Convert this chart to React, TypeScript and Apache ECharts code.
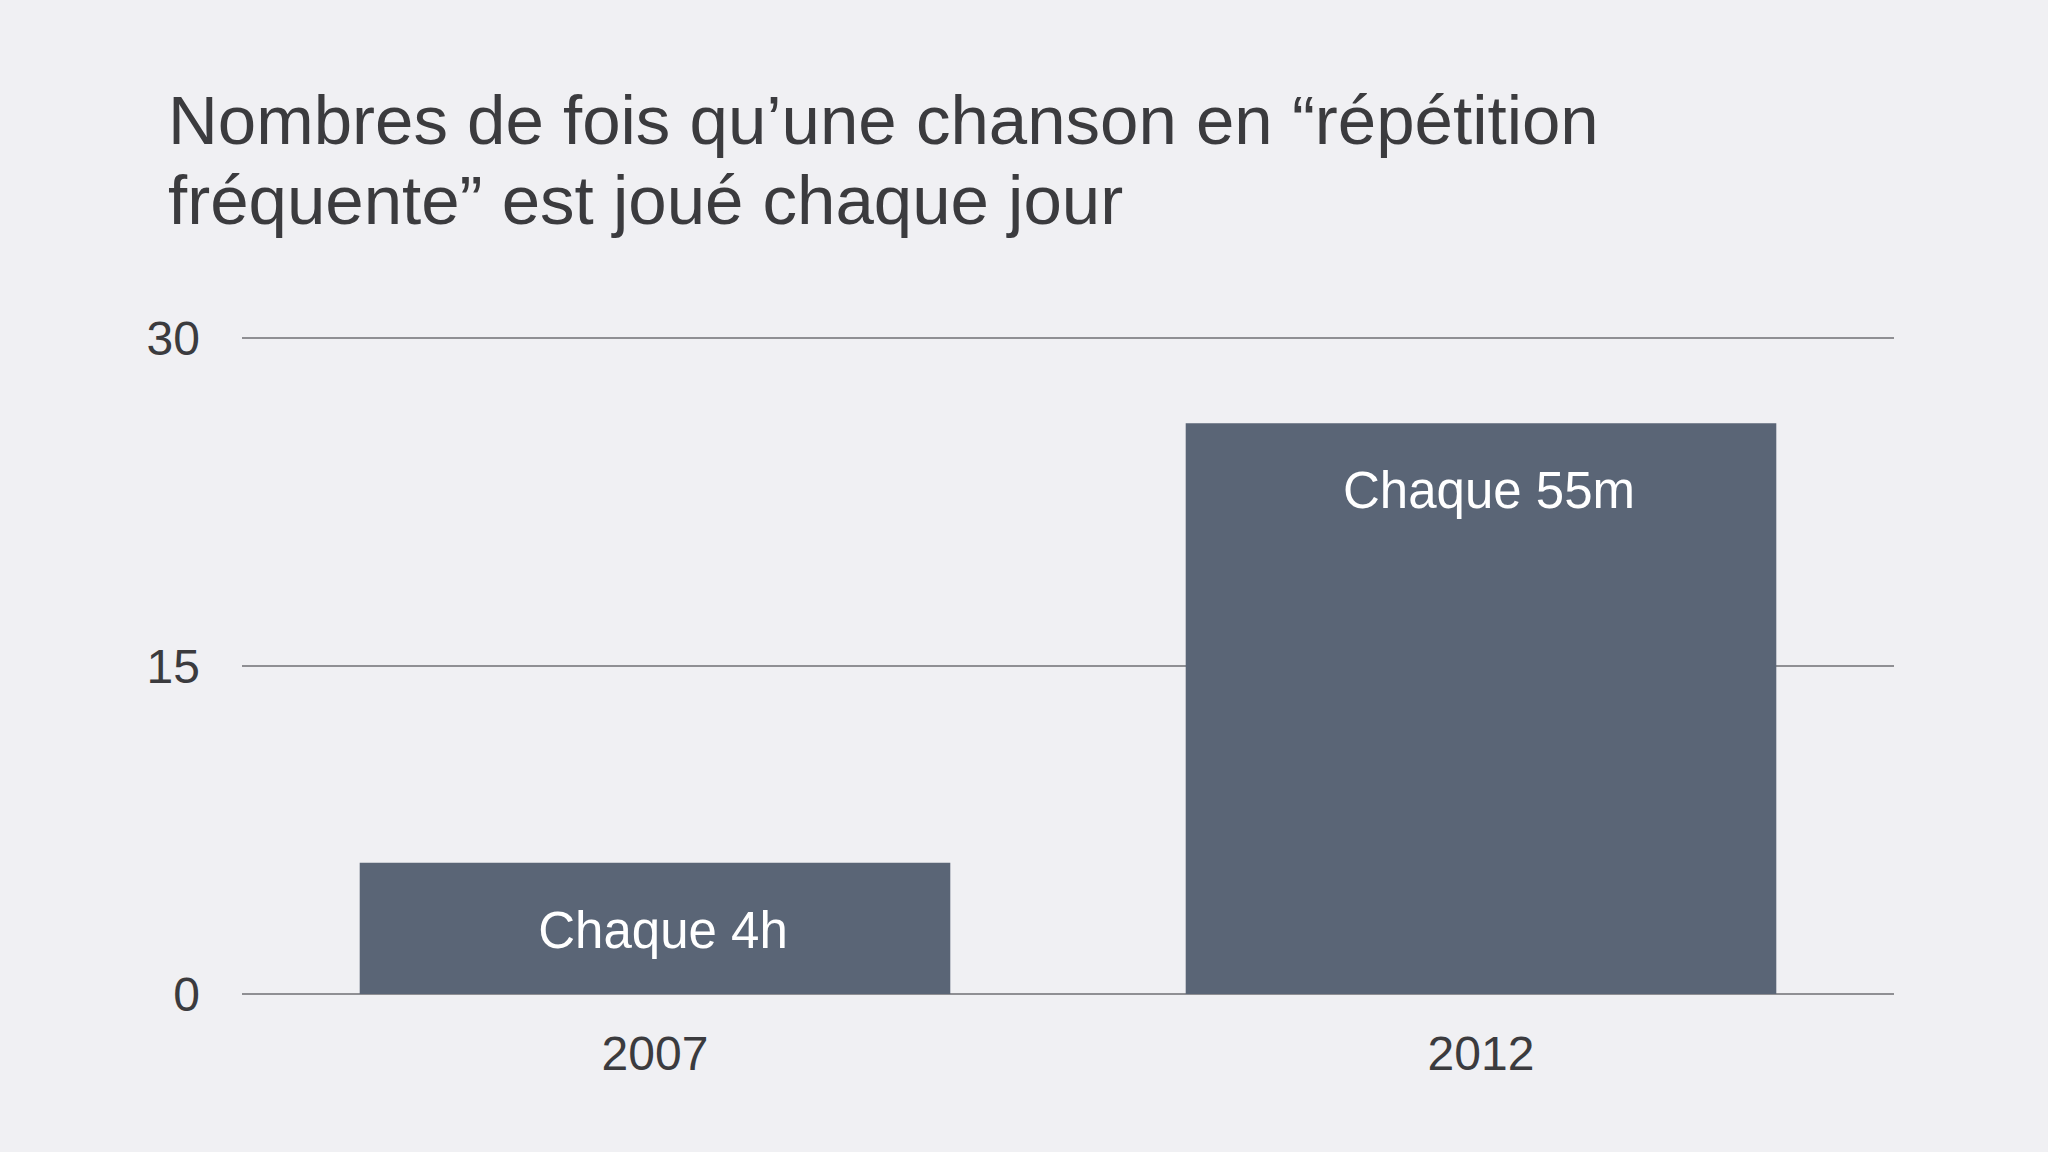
import React, { useEffect, useRef } from 'react'
import * as echarts from 'echarts'

// données
const YEARS = ['2007', '2012']
const PLAYS_PER_DAY = [6, 26.1]
const BAR_LABELS = ['Chaque 4h', 'Chaque 55m']
const Y_TICKS = [0, 15, 30]

const TITLE = 'Nombres de fois qu\u2019une chanson en \u201cr\u00e9p\u00e9tition\nfr\u00e9quente\u201d est jou\u00e9 chaque jour'

const FONT = '"Liberation Sans", Arial, Helvetica, sans-serif'
const TEXT_COLOR = '#3b3b3e'
const BAR_COLOR = '#5a6576'
const BG_COLOR = '#f0f0f3'

export default function App() {
  const chartRef = useRef<HTMLDivElement>(null)

  useEffect(() => {
    if (!chartRef.current) return
    const chart = echarts.init(chartRef.current, null, { renderer: 'svg' })

    chart.setOption({
      animation: false,
      backgroundColor: BG_COLOR,
      textStyle: { fontFamily: FONT },
      title: {
        text: TITLE,
        left: 168,
        top: 80,
        padding: 0,
        textStyle: {
          fontFamily: FONT,
          fontSize: 69,
          fontWeight: 'normal',
          lineHeight: 80,
          color: TEXT_COLOR,
        },
      },
      grid: {
        left: 242,
        right: 154,
        top: 338,
        bottom: 158,
        containLabel: false,
      },
      xAxis: {
        type: 'category',
        data: YEARS,
        axisLine: { show: false },
        axisTick: { show: false },
        axisLabel: {
          fontFamily: FONT,
          fontSize: 48,
          color: TEXT_COLOR,
          margin: 35,
        },
      },
      yAxis: {
        type: 'value',
        min: Y_TICKS[0],
        max: Y_TICKS[Y_TICKS.length - 1],
        interval: Y_TICKS[1] - Y_TICKS[0],
        axisLine: { show: false },
        axisTick: { show: false },
        axisLabel: {
          fontFamily: FONT,
          fontSize: 48,
          color: TEXT_COLOR,
          margin: 42,
        },
        splitLine: {
          lineStyle: { color: '#6f6f73', width: 1.5 },
        },
      },
      series: [
        {
          type: 'bar',
          data: PLAYS_PER_DAY,
          barCategoryGap: '28.5%',
          itemStyle: { color: BAR_COLOR },
          label: {
            show: true,
            position: 'insideTop',
            distance: 42,
            offset: [8, 0],
            fontFamily: FONT,
            fontSize: 51,
            color: '#ffffff',
            formatter: (p: any) => BAR_LABELS[p.dataIndex],
          },
        },
      ],
    })

    return () => {
      chart.dispose()
    }
  }, [])

  return (
    <div
      ref={chartRef}
      style={{ position: 'fixed', left: 0, top: 0, width: '2048px', height: '1152px' }}
    />
  )
}
